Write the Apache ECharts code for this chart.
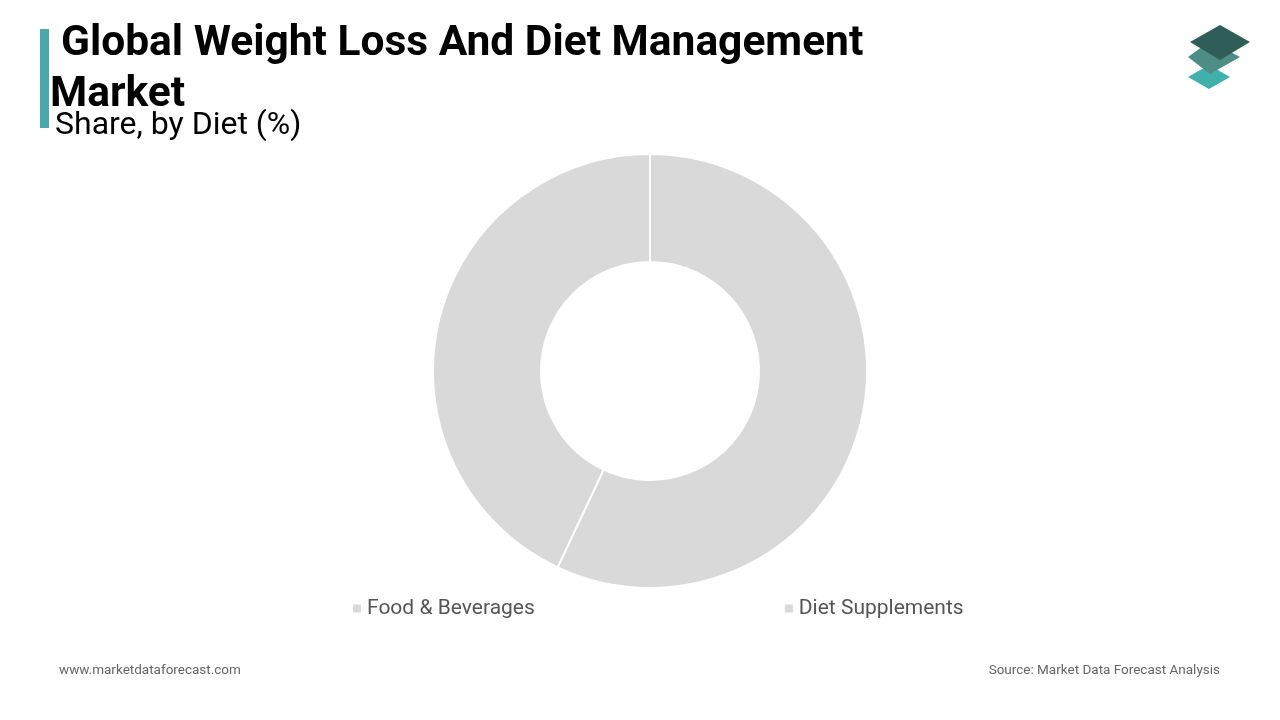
<!DOCTYPE html>
<html>
<head>
<meta charset="utf-8">
<script src="https://cdn.jsdelivr.net/npm/echarts@6/dist/echarts.min.js"></script>
<style>html,body{margin:0;padding:0;background:#fff}#chart{width:1280px;height:720px}</style>
</head>
<body>
<div id="chart"></div>
<script>
var categories = ['Food & Beverages', 'Diet Supplements'];
var shares = [57, 43];

var chart = echarts.init(document.getElementById('chart'));
var option = {
    backgroundColor: '#ffffff',
    color: ['#d9d9d9', '#d9d9d9'],
    legend: {
        data: categories,
        top: 593,
        left: 346,
        itemGap: 248,
        itemWidth: 10,
        itemHeight: 10,
        icon: 'rect',
        textStyle: {fontFamily: 'Roboto', fontSize: 21, color: '#555'}
    },
    graphic: [
        {type: 'rect', shape: {x: 40, y: 29, width: 9, height: 99}, style: {fill: '#4aa8a8'}},
        {type: 'text', left: 61, top: 23, style: {text: 'Global Weight Loss And Diet Management', font: 'bold 42.5px Roboto', fill: '#000'}},
        {type: 'text', left: 50, top: 74, style: {text: 'Market', font: 'bold 42.5px Roboto', fill: '#000'}},
        {type: 'text', left: 55, top: 110, style: {text: 'Share, by Diet (%)', font: '32px Roboto', fill: '#000'}},
        {type: 'text', left: 59, top: 664, style: {text: 'www.marketdataforecast.com', font: '13.5px Roboto', fill: '#666'}},
        {type: 'text', right: 60, top: 664, style: {text: 'Source: Market Data Forecast Analysis', font: '13.5px Roboto', fill: '#666'}},
        {type: 'polygon', shape: {points: [[1209, 89], [1230, 77], [1209, 65], [1188, 77]]}, style: {fill: '#3fb0ac'}},
        {type: 'polygon', shape: {points: [[1210, 74], [1240, 57], [1210, 41], [1188, 57]]}, style: {fill: '#4e8c86'}},
        {type: 'polygon', shape: {points: [[1220, 60], [1250, 42], [1220, 25], [1190, 42]]}, style: {fill: '#2f5d58'}}
    ],
    series: [{
        type: 'pie',
        center: [650, 371],
        radius: [109, 217],
        startAngle: 90,
        clockwise: true,
        label: {show: false},
        labelLine: {show: false},
        itemStyle: {borderColor: '#fff', borderWidth: 2},
        data: categories.map(function (c, i) { return {name: c, value: shares[i]}; })
    }]
};
chart.setOption(option);
</script>
</body>
</html>
